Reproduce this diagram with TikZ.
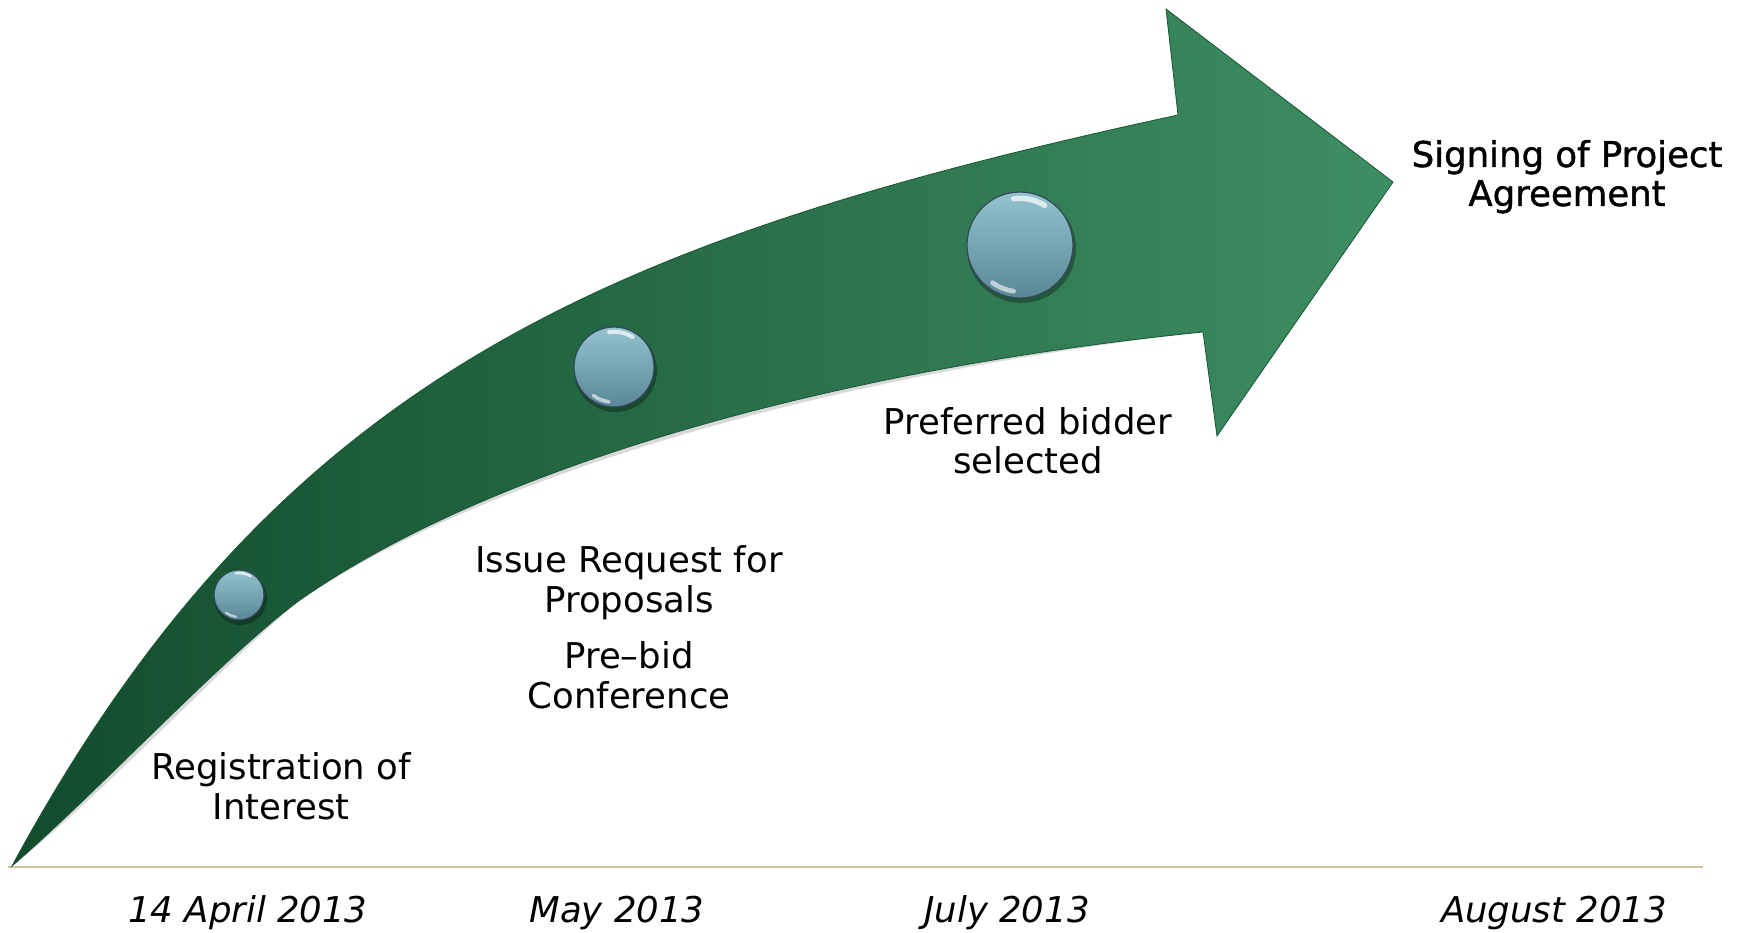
\documentclass[tikz,border=0pt]{standalone}
\usepackage{fontspec}
\setmainfont{DejaVu Sans}
\newfontfamily\semibfont[FakeBold=1.2]{DejaVu Sans}
\definecolor{arrowL}{HTML}{114C2C}
\definecolor{arrowM}{HTML}{287450}
\definecolor{arrowR}{HTML}{3E8E63}
\definecolor{arrowEdge}{HTML}{1A5535}
\definecolor{bubTop}{HTML}{93C3CF}
\definecolor{bubBot}{HTML}{5A8797}
\definecolor{bubEdge}{HTML}{34495A}
\definecolor{axisLine}{HTML}{CFC59A}
\tikzset{
  lbl/.style={anchor=base, inner sep=0pt, font=\fontsize{35.5}{40}\selectfont},
  signlbl/.style={anchor=base, inner sep=0pt, font=\semibfont\fontsize{35.5}{40}\selectfont},
  datelbl/.style={anchor=base, inner sep=0pt, font=\fontsize{35.5}{40}\selectfont\itshape},
  bubble/.style={circle, inner sep=0pt, outer sep=0pt, draw=bubEdge, line width=1.2pt,
    top color=bubTop, bottom color=bubBot},
  axisstyle/.style={draw=axisLine, line width=2.5pt},
}
\begin{document}
\begin{tikzpicture}[x=1pt, y=-1pt]
\useasboundingbox (0,0) rectangle (1742,933);
% key points of the arrow
\coordinate (tail) at (12,866);
\coordinate (un) at (1178,115);
\coordinate (ht) at (1166,9);
\coordinate (tip) at (1393,182);
\coordinate (hb) at (1217,436);
\coordinate (ln) at (1203,332);
\coordinate (lm) at (300,600);
% axis line
\coordinate (axl) at (8,867);
\coordinate (axr) at (1703,867);
\draw[axisstyle] (axl) -- (axr);
% shadow
\fill[black, opacity=0.15, shift={(3,5)}]
  (tail) .. controls (275,380) and (600,240) .. (un) -- (ht) -- (tip) -- (hb) -- (ln)
  .. controls (853,367) and (500,460) .. (lm) .. controls (225,655) and (100,790) .. (tail) -- cycle;
% arrow body
\shade[left color=arrowL, middle color=arrowM, right color=arrowR, draw=arrowEdge, line width=0.8pt, line join=miter]
  (tail) .. controls (275,380) and (600,240) .. (un) -- (ht) -- (tip) -- (hb) -- (ln)
  .. controls (853,367) and (500,460) .. (lm) .. controls (225,655) and (100,790) .. (tail) -- cycle;
% bubbles
\foreach \n/\x/\y/\r in {s1/239/595/25, s2/614/367/40, s3/1020/245/53} {
  \fill[black, opacity=0.3] (\x+1.5,\y+3.5) circle ({\r+1.5});
  \node[bubble, minimum size={2*\r}] (\n) at (\x,\y) {};
  \draw[white, opacity=0.7, line width={0.1*\r}, line cap=round]
    ([shift={(\x,\y)}] -58:{0.88*\r}) arc (-58:-98:{0.88*\r});
  \draw[white, opacity=0.6, line width={0.09*\r}, line cap=round]
    ([shift={(\x,\y)}] 98:{0.88*\r}) arc (98:126:{0.88*\r});
}
% labels
\node[lbl] (reg1) at (281,779) {Registration of};
\node[lbl] (reg2) at (281,819) {Interest};
\node[lbl] (iss1) at (629,572) {Issue Request for};
\node[lbl] (iss2) at (629,612) {Proposals};
\node[lbl] (pre1) at (629,668) {Pre–bid};
\node[lbl] (pre2) at (629,708) {Conference};
\node[lbl] (pref1) at (1028,434) {Preferred bidder};
\node[lbl] (pref2) at (1028,473) {selected};
\node[signlbl] (sign1) at (1567,167) {Signing of Project};
\node[signlbl] (sign2) at (1567,206) {Agreement};
% dates
\node[datelbl] (d1) at (248,922) {14 April 2013};
\node[datelbl] (d2) at (617,922) {May 2013};
\node[datelbl] (d3) at (1007,922) {July 2013};
\node[datelbl] (d4) at (1554,922) {August 2013};
\end{tikzpicture}
\end{document}
